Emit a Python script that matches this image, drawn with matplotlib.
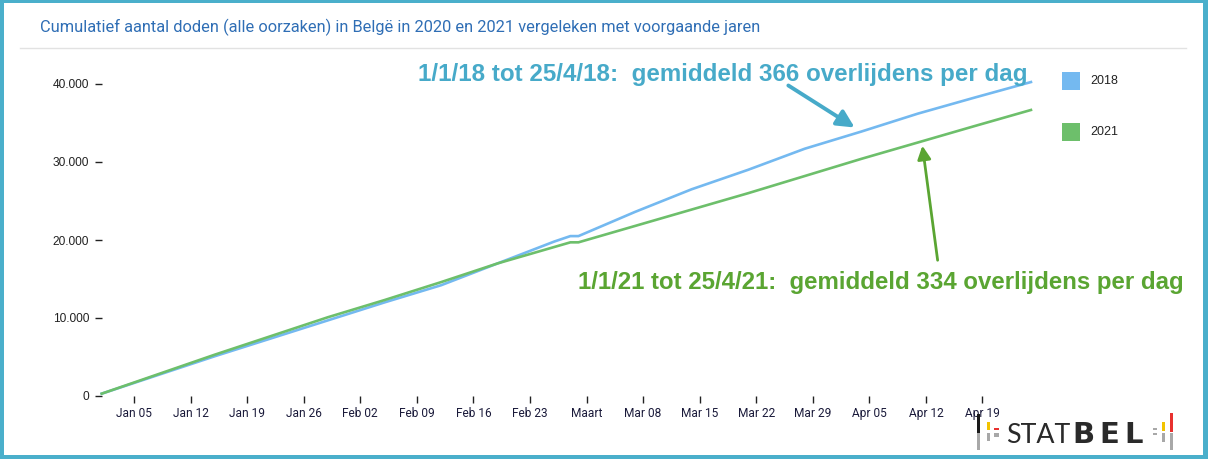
import matplotlib
matplotlib.use("Agg")
import numpy as np
import pandas as pd
import matplotlib.pyplot as plt
import matplotlib.dates as mdates
from matplotlib.patches import Rectangle, FancyArrowPatch

# reference axis uses a 2020 (leap year) calendar; 2018/2021 stay flat on Feb 29
dates = ["2020-01-01", "2020-01-08", "2020-01-15", "2020-01-22", "2020-01-29",
         "2020-02-05", "2020-02-12", "2020-02-19", "2020-02-26", "2020-02-28",
         "2020-02-29", "2020-03-07", "2020-03-14", "2020-03-21", "2020-03-28",
         "2020-04-04", "2020-04-11", "2020-04-18", "2020-04-25"]
deaths_2018 = [300, 2700, 5100, 7400, 9700, 12000, 14200, 17000, 19800, 20500,
               20500, 23600, 26500, 29000, 31700, 33900, 36200, 38250, 40250]
deaths_2021 = [300, 2800, 5300, 7700, 10100, 12300, 14600, 17000, 19100, 19700,
               19700, 21800, 23900, 26000, 28200, 30400, 32500, 34600, 36670]

tick_dates = ["2020-01-05", "2020-01-12", "2020-01-19", "2020-01-26", "2020-02-02",
              "2020-02-09", "2020-02-16", "2020-02-23", "2020-03-01", "2020-03-08",
              "2020-03-15", "2020-03-22", "2020-03-29", "2020-04-05", "2020-04-12",
              "2020-04-19"]
tick_labels = ["Jan 05", "Jan 12", "Jan 19", "Jan 26", "Feb 02", "Feb 09", "Feb 16",
               "Feb 23", "Maart", "Mar 08", "Mar 15", "Mar 22", "Mar 29", "Apr 05",
               "Apr 12", "Apr 19"]
y_ticks = [0, 10000, 20000, 30000, 40000]
y_labels = ["0", "10.000", "20.000", "30.000", "40.000"]

title = "Cumulatief aantal doden (alle oorzaken) in Belgë in 2020 en 2021 vergeleken met voorgaande jaren"
note_2018 = "1/1/18 tot 25/4/18:  gemiddeld 366 overlijdens per dag"
note_2021 = "1/1/21 tot 25/4/21:  gemiddeld 334 overlijdens per dag"

W, H = 1208, 459
c18, c21 = "#74b9f0", "#6dbf6b"
teal, green_txt = "#47aac9", "#5aa532"


def fx(px):
    return px / W


def fy(py):
    return 1 - py / H


fig = plt.figure(figsize=(W / 100, H / 100), dpi=100)

# chart area
x0 = pd.Timestamp("2020-01-01")
left_px, right_px = 101.7, 1035.0
ax = fig.add_axes([fx(left_px), fy(396), fx(right_px - left_px), (396 - 76.2) / H])
d = pd.to_datetime(dates)
ax.plot(d, deaths_2018, color=c18, lw=1.9, clip_on=False, solid_joinstyle="round")
ax.plot(d, deaths_2021, color=c21, lw=1.9, clip_on=False, solid_joinstyle="round")
ax.set_xlim(x0, x0 + pd.Timedelta(days=115.5))
ax.set_ylim(0, 41000)
for s in ax.spines.values():
    s.set_visible(False)

ax.set_yticks(y_ticks)
ax.set_yticklabels(y_labels, fontsize=8.6, family="Liberation Sans", color="#222222")
ax.tick_params(axis="y", length=5, width=1, color="#222222", pad=4)

ax.set_xticks(pd.to_datetime(tick_dates))
ax.set_xticklabels(tick_labels, fontsize=8.6, family="Roboto", color="#1a1a3a")
ax.tick_params(axis="x", length=5, width=1, color="#222222", pad=3)

# title and separator
fig.text(fx(40), fy(27), title, fontsize=11.8, family="Roboto", color="#2f6eb5",
         va="center", ha="left")
fig.add_artist(plt.Line2D([fx(20), fx(1186)], [fy(48), fy(48)], color="#e2e2e2", lw=1))

# legend
for name, col, py in [("2018", c18, 81), ("2021", c21, 132)]:
    fig.add_artist(Rectangle((fx(1062), fy(py + 9)), 18 / W, 18 / H,
                             transform=fig.transFigure, color=col, lw=0))
    fig.text(fx(1090), fy(py), name, fontsize=9, family="Liberation Sans",
             color="#222222", va="center", ha="left")

# annotations
fig.text(fx(418), fy(74), note_2018, fontsize=17.4, family="Liberation Sans",
         weight="bold", color=teal, va="center", ha="left")
fig.text(fx(578), fy(283), note_2021, fontsize=17.3, family="Liberation Sans",
         weight="bold", color=green_txt, va="center", ha="left")
fig.add_artist(FancyArrowPatch(
    (fx(786), fy(84)), (fx(857), fy(129)), transform=fig.transFigure,
    arrowstyle="-|>", mutation_scale=26, lw=2.8, color=teal))
fig.add_artist(FancyArrowPatch(
    (fx(938), fy(263)), (fx(922), fy(143)), transform=fig.transFigure,
    arrowstyle="-|>", mutation_scale=20, lw=2, color=green_txt))


# STATBEL logo
def rect(x1, y1, x2, y2, col):
    fig.add_artist(Rectangle((fx(x1), fy(y2)), (x2 - x1) / W, (y2 - y1) / H,
                             transform=fig.transFigure, color=col, lw=0))


grey = "#a8a8a8"
rect(976.7, 414, 979.5, 432.5, "#1a1a1a")
rect(976.7, 433, 979.5, 449.5, grey)
rect(986.7, 421.5, 990, 430, "#f2c300")
rect(986.7, 433, 990, 440.5, grey)
rect(994.3, 428, 999, 430, "#e8312f")
rect(994.3, 432.5, 999, 436.5, grey)
rect(1153, 428, 1157, 430, grey)
rect(1153, 432.5, 1157, 434.5, grey)
rect(1161.7, 421.5, 1164.5, 430.5, "#f2c300")
rect(1161.7, 433, 1164.5, 441.5, grey)
rect(1170, 412.5, 1173.3, 432, "#e8312f")
rect(1170, 433, 1173.3, 449.5, grey)
fig.text(fx(1006), fy(442.7), "STAT", fontsize=19.3, family="Lato",
         color="#2a2a2a", ha="left", va="baseline")
for letter, px in [("B", 1072), ("E", 1099), ("L", 1124)]:
    fig.text(fx(px), fy(442.7), letter, fontsize=21, family="DejaVu Sans",
             weight="bold", color="#2a2a2a", ha="left", va="baseline")

# frame
for (x1, y1, x2, y2) in [(0, 0, W, 3), (0, H - 4, W, H), (0, 0, 3.5, H), (W - 5, 0, W, H)]:
    rect(x1, y1, x2, y2, "#4aafcb")

fig.savefig("out.png", dpi=100)
